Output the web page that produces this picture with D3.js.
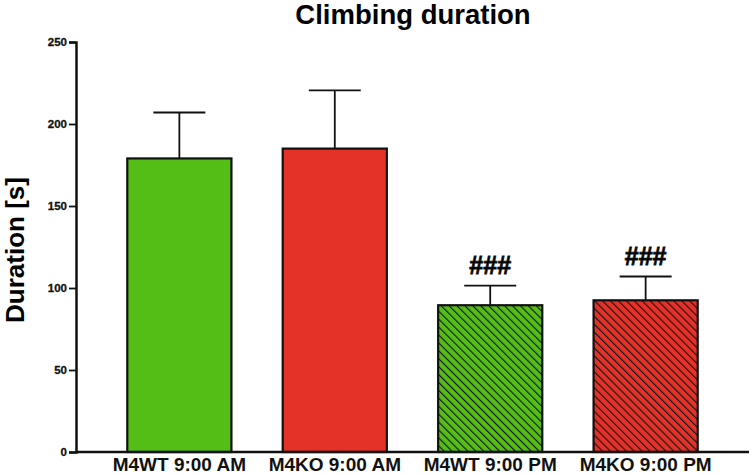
<!DOCTYPE html>
<html>
<head>
<meta charset="utf-8">
<script src="https://cdn.jsdelivr.net/npm/d3@7"></script>
<style>
  body { margin: 0; background: #fff; }
  text { font-family: "Liberation Sans", Arial, sans-serif; font-weight: bold; }
</style>
</head>
<body>
<svg id="chart" width="752" height="475"></svg>
<script>
// chart values
const groups = ["M4WT 9:00 AM", "M4KO 9:00 AM", "M4WT 9:00 PM", "M4KO 9:00 PM"];
const means = [179, 185, 89.5, 92.5];
const errors = [28, 35.5, 12, 14.5];
const marks = ["", "", "###", "###"];
const yTicks = [0, 50, 100, 150, 200, 250];

const svg = d3.select("#chart");
const plotLeft = 76, plotRight = 749, plotTop = 42, plotBottom = 452;

// hatch patterns for the PM bars
const defs = svg.append("defs");
[["hatchGreen", "#55be16"], ["hatchRed", "#e53228"]].forEach(function (p) {
    const pat = defs.append("pattern")
        .attr("id", p[0])
        .attr("patternUnits", "userSpaceOnUse")
        .attr("width", 5.6).attr("height", 5.6)
        .attr("patternTransform", "rotate(-45)");
    pat.append("rect").attr("width", 5.6).attr("height", 5.6).attr("fill", p[1]);
    pat.append("line")
        .attr("x1", 0).attr("y1", 0).attr("x2", 0).attr("y2", 5.6)
        .attr("stroke", "#111").attr("stroke-width", 2.2);
});

const colors = ["#55be16", "#e53228", "url(#hatchGreen)", "url(#hatchRed)"];

const x = d3.scaleBand()
    .domain(groups)
    .range([plotLeft, plotRight])
    .paddingInner(0.33)
    .paddingOuter(0.33);

const y = d3.scaleLinear()
    .domain([0, 250])
    .range([plotBottom, plotTop]);

// error bars (drawn first so bars cover the lower half)
const err = svg.append("g");
groups.forEach(function (g, i) {
    const cx = x(g) + x.bandwidth() / 2;
    err.append("line")
        .attr("x1", cx).attr("x2", cx)
        .attr("y1", y(means[i])).attr("y2", y(means[i] + errors[i]))
        .attr("stroke", "#111").attr("stroke-width", 1.8);
    err.append("line")
        .attr("x1", cx - 26).attr("x2", cx + 26)
        .attr("y1", y(means[i] + errors[i])).attr("y2", y(means[i] + errors[i]))
        .attr("stroke", "#111").attr("stroke-width", 1.8);
});

svg.append("g").selectAll("rect")
    .data(groups)
    .enter()
    .append("rect")
    .attr("x", d => x(d))
    .attr("y", (d, i) => y(means[i]))
    .attr("width", x.bandwidth())
    .attr("height", (d, i) => y(0) - y(means[i]))
    .attr("fill", (d, i) => colors[i])
    .attr("stroke", "#111")
    .attr("stroke-width", 2.2);

// significance marks
svg.append("g").selectAll("text")
    .data(groups)
    .enter()
    .append("text")
    .attr("x", d => x(d) + x.bandwidth() / 2)
    .attr("y", (d, i) => y(means[i] + errors[i]) - 12)
    .attr("text-anchor", "middle")
    .attr("font-size", 25)
    .attr("stroke", "#111").attr("stroke-width", 0.8)
    .text((d, i) => marks[i]);

// y axis
const yAxis = svg.append("g")
    .attr("transform", "translate(" + plotLeft + ",0)")
    .call(d3.axisLeft(y).tickValues(yTicks).tickSize(7).tickPadding(2));
yAxis.select(".domain").attr("stroke", "#111").attr("stroke-width", 2.5);
yAxis.selectAll(".tick line").attr("stroke", "#111").attr("stroke-width", 1.8);
yAxis.selectAll(".tick text")
    .attr("font-size", 11.5).attr("fill", "#111")
    .attr("stroke", "#111").attr("stroke-width", 0.3)
    .style("font-family", "Liberation Sans, Arial, sans-serif").style("font-weight", "bold");

// x axis
const xAxis = svg.append("g")
    .attr("transform", "translate(0," + plotBottom + ")")
    .call(d3.axisBottom(x).tickSize(0).tickPadding(5));
xAxis.select(".domain").attr("stroke", "#111").attr("stroke-width", 2.5)
    .attr("d", "M" + plotLeft + ",0H" + plotRight);
xAxis.selectAll(".tick text")
    .attr("font-size", 19).attr("fill", "#111").attr("dy", "0.72em")
    .style("font-family", "Liberation Sans, Arial, sans-serif").style("font-weight", "bold");

// title and y label
svg.append("text")
    .attr("x", 413).attr("y", 24)
    .attr("text-anchor", "middle")
    .attr("font-size", 27.5)
    .text("Climbing duration");

svg.append("text")
    .attr("transform", "translate(24,250) rotate(-90)")
    .attr("text-anchor", "middle")
    .attr("font-size", 26)
    .text("Duration [s]");
</script>
</body>
</html>
